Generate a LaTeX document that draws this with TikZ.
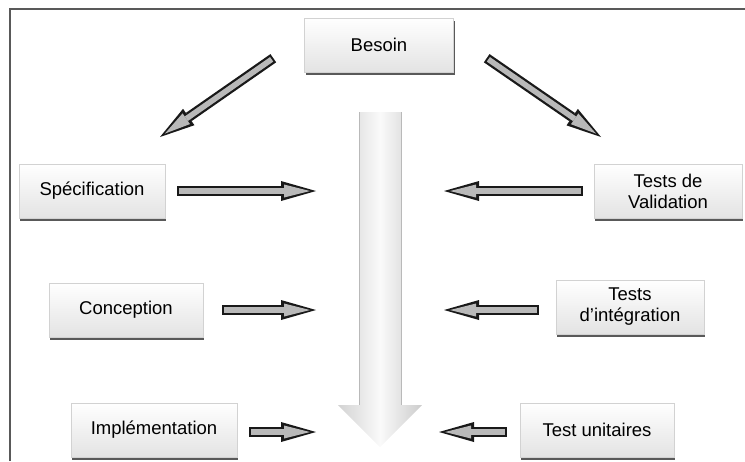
\documentclass[tikz,border=0pt]{standalone}
\usepackage{fontspec}
\setmainfont{Liberation Sans}
\usetikzlibrary{arrows.meta,shadows}

\tikzset{
  stepbox/.style={rectangle, draw=gray!35, top color=white, bottom color=gray!22,
    minimum height=54pt, align=center, font=\fontsize{18.5}{21}\selectfont,
    drop shadow={shadow xshift=1pt, shadow yshift=-2.5pt, fill=black, opacity=0.65}},
  arrowrim/.style={draw=black!90, line width=10pt,
    -{Triangle[length=35pt, width=20pt, line width=0pt]}},
  arrowcore/.style={draw=gray!55, line width=5.5pt, shorten >=6pt, shorten <=2pt,
    -{Triangle[length=26pt, width=13pt, line width=0pt]}},
}

\begin{document}
\begin{tikzpicture}[x=1pt, y=-1pt]
            \useasboundingbox (0,0) rectangle (745,461);
            % frame
            \draw[gray!70!black, line width=1.2pt] (10,461) -- (10,9) -- (745,9);

            % big arrow
            \coordinate (vtop) at (380,112);
            \coordinate (vtip) at (380,447);
            \shade[left color=gray!35, right color=gray!40, middle color=gray!4]
              (vtop) ++(-21,0) -- ++(0,293) -- ++(-21,0) -- (vtip) -- ++(42,-42)
              -- ++(-21,0) -- ++(0,-293) -- cycle;
            \draw[gray!55] (vtop) ++(-21,0) -- ++(0,293);
            \draw[gray!55] (vtop) ++(21,0) -- ++(0,293);

            % steps
            \node[stepbox, minimum width=149pt] (besoin) at (379,45) {Besoin};
            \node[stepbox, minimum width=146pt] (spec) at (92,191) {Spécification};
            \node[stepbox, minimum width=148pt] (valid) at (668,191) {Tests de\\Validation};
            \node[stepbox, minimum width=154pt] (conc) at (126,310) {Conception};
            \node[stepbox, minimum width=148pt] (integ) at (630,307) {Tests\\d'intégration};
            \node[stepbox, minimum width=166pt] (impl) at (154,430) {Implémentation};
            \node[stepbox, minimum width=154pt] (unit) at (597,430) {Test unitaires};

            % arrow ends
            \coordinate (specdown) at (160,137);
            \coordinate (validdown) at (601,137);
            \coordinate (specin) at (316,191);
            \coordinate (validin) at (444,191);
            \coordinate (concin) at (316,310);
            \coordinate (integin) at (444,310);
            \coordinate (implin) at (316,432);
            \coordinate (unitin) at (439,432);

            % arrows
            \draw[arrowrim] ([shift={(-31,-14)}]besoin.south west) -- (specdown);
            \draw[arrowcore] ([shift={(-31,-14)}]besoin.south west) -- (specdown);
            \draw[arrowrim] ([shift={(33,-14)}]besoin.south east) -- (validdown);
            \draw[arrowcore] ([shift={(33,-14)}]besoin.south east) -- (validdown);
            \draw[arrowrim] ([xshift=12pt]spec.east) -- (specin);
            \draw[arrowcore] ([xshift=12pt]spec.east) -- (specin);
            \draw[arrowrim] ([xshift=-11pt]valid.west) -- (validin);
            \draw[arrowcore] ([xshift=-11pt]valid.west) -- (validin);
            \draw[arrowrim] ([xshift=19pt]conc.east) -- (concin);
            \draw[arrowcore] ([xshift=19pt]conc.east) -- (concin);
            \draw[arrowrim] ([shift={(-17,3)}]integ.west) -- (integin);
            \draw[arrowcore] ([shift={(-17,3)}]integ.west) -- (integin);
            \draw[arrowrim] ([shift={(12,2)}]impl.east) -- (implin);
            \draw[arrowcore] ([shift={(12,2)}]impl.east) -- (implin);
            \draw[arrowrim] ([shift={(-13,2)}]unit.west) -- (unitin);
            \draw[arrowcore] ([shift={(-13,2)}]unit.west) -- (unitin);
\end{tikzpicture}
\end{document}
